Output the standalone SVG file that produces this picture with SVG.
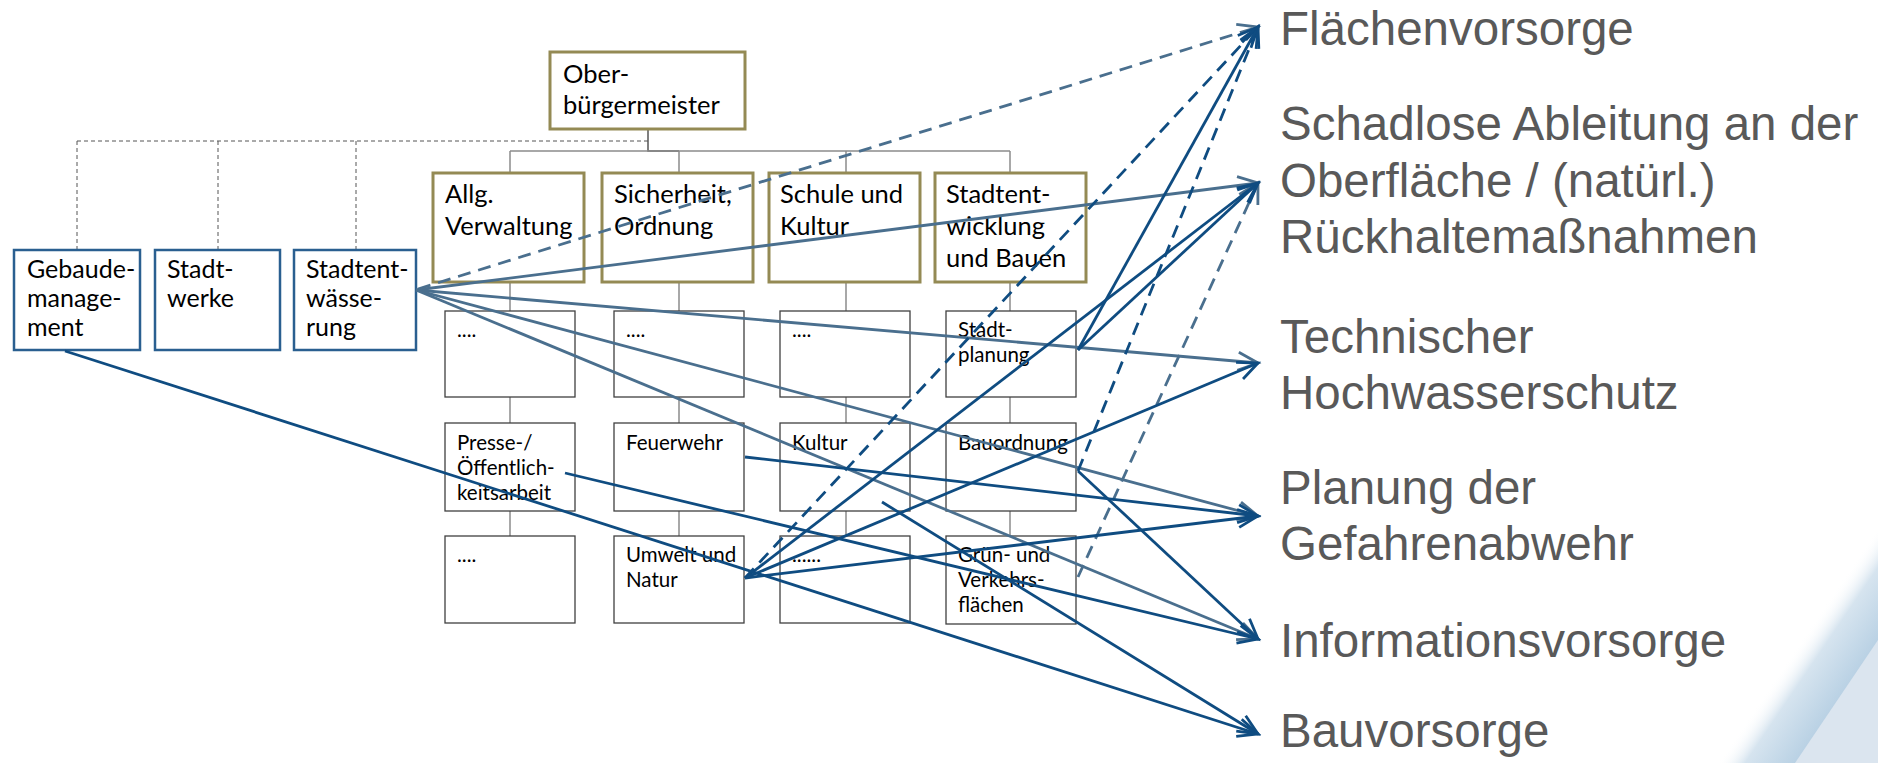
<svg xmlns="http://www.w3.org/2000/svg" width="1878" height="763" viewBox="0 0 1878 763">
<defs>
<style>
.top{fill:#fff;stroke:#948A54;stroke-width:3}
.side{fill:#fff;stroke:#2a5f90;stroke-width:2.5}
.sub{fill:#fff;stroke:#404040;stroke-width:1.3}
.tb{font-family:Lato,"Liberation Sans",sans-serif;font-size:25.5px;fill:#000}
.tl{font-family:Lato,"Liberation Sans",sans-serif;font-size:25px;fill:#000}
.ts{font-family:Lato,"Liberation Sans",sans-serif;font-size:20.5px;fill:#000}
.lab{font-family:"Liberation Sans",Arial,sans-serif;font-size:47.5px;fill:#595959}
.tree{stroke:#8c8c8c;stroke-width:1.5;fill:none}
.dot{stroke:#555;stroke-width:1;stroke-dasharray:4 3;fill:none}
.navy{stroke:#0f4c81;stroke-width:2.8;fill:none;marker-end:url(#an)}
.steel{stroke:#4a6f8e;stroke-width:2.8;fill:none;marker-end:url(#as)}
.dsh{stroke-dasharray:13 8}
</style>
<marker id="an" markerUnits="userSpaceOnUse" markerWidth="30" markerHeight="30" refX="0" refY="0" orient="auto" overflow="visible">
<path d="M-20,-9 L0,0 L-20,9" fill="none" stroke="#0f4c81" stroke-width="2.8"/>
</marker>
<marker id="as" markerUnits="userSpaceOnUse" markerWidth="30" markerHeight="30" refX="0" refY="0" orient="auto" overflow="visible">
<path d="M-20,-9 L0,0 L-20,9" fill="none" stroke="#4a6f8e" stroke-width="2.8"/>
</marker>
<linearGradient id="bg1" gradientUnits="userSpaceOnUse" x1="1718" y1="763" x2="1771" y2="799">
<stop offset="0" stop-color="#ffffff" stop-opacity="0"/>
<stop offset="0.35" stop-color="#d6e4ef"/>
<stop offset="1" stop-color="#b9d1e4"/>
</linearGradient>
</defs>
<rect width="1878" height="763" fill="#fff"/>
<g id="background">
<polygon points="1718,763 1878,527 1878,763" fill="url(#bg1)"/>
<polygon points="1795,763 1878,640 1878,763" fill="#dbe5ef"/>
</g>
<g id="tree">
<path class="dot" d="M77,141 H648 M77,141 V250 M218,141 V250 M356,141 V250"/>
<path d="M648,129 V151 H679" stroke="#555" stroke-width="1.5" fill="none"/>
<path class="tree" d="M510,151 H1010 M510,151 V173 M679,151 V173 M846,151 V173 M1010,151 V173"/>
<path class="tree" d="M510,282 V311 M679,282 V311 M846,282 V311 M1010,282 V311 M510,397 V423 M679,397 V423 M846,397 V423 M1010,397 V423 M510,511 V536 M679,511 V536 M846,511 V536 M1010,511 V536"/>
</g>
<g id="oberbuergermeister"><rect class="top" x="550" y="52" width="195" height="77"/><text class="tb"><tspan x="563" y="83">Ober-</tspan><tspan x="563" y="114">bürgermeister</tspan></text></g>
<g id="allg"><rect class="top" x="433" y="173" width="151" height="109"/><text class="tb"><tspan x="445" y="203">Allg.</tspan><tspan x="445" y="235">Verwaltung</tspan></text></g>
<g id="sicherheit"><rect class="top" x="602" y="173" width="151" height="109"/><text class="tb"><tspan x="614" y="203">Sicherheit,</tspan><tspan x="614" y="235">Ordnung</tspan></text></g>
<g id="schule"><rect class="top" x="769" y="173" width="151" height="109"/><text class="tb"><tspan x="780" y="203">Schule und</tspan><tspan x="780" y="235">Kultur</tspan></text></g>
<g id="stadtentwicklung"><rect class="top" x="935" y="173" width="151" height="109"/><text class="tb"><tspan x="946" y="203">Stadtent-</tspan><tspan x="946" y="235">wicklung</tspan><tspan x="946" y="267">und Bauen</tspan></text></g>
<g id="gebaeude"><rect class="side" x="14" y="250" width="126" height="100"/><text class="tl"><tspan x="27" y="278">Gebaude-</tspan><tspan x="27" y="307">manage-</tspan><tspan x="27" y="336">ment</tspan></text></g>
<g id="stadtwerke"><rect class="side" x="155" y="250" width="125" height="100"/><text class="tl"><tspan x="167" y="278">Stadt-</tspan><tspan x="167" y="307">werke</tspan></text></g>
<g id="stadtentwaesserung"><rect class="side" x="294" y="250" width="122" height="100"/><text class="tl"><tspan x="306" y="278">Stadtent-</tspan><tspan x="306" y="307">wässe-</tspan><tspan x="306" y="336">rung</tspan></text></g>
<g id="allg-1"><rect class="sub" x="445" y="311" width="130" height="86"/><text class="ts" x="457" y="337">....</text></g>
<g id="sich-1"><rect class="sub" x="614" y="311" width="130" height="86"/><text class="ts" x="626" y="337">....</text></g>
<g id="schule-1"><rect class="sub" x="780" y="311" width="130" height="86"/><text class="ts" x="792" y="337">....</text></g>
<g id="stadtplanung"><rect class="sub" x="946" y="311" width="130" height="86"/><text class="ts"><tspan x="958" y="337">Stadt-</tspan><tspan x="958" y="362">planung</tspan></text></g>
<g id="presse"><rect class="sub" x="445" y="423" width="130" height="88"/><text class="ts"><tspan x="457" y="450">Presse-/</tspan><tspan x="457" y="475">Öffentlich-</tspan><tspan x="457" y="500">keitsarbeit</tspan></text></g>
<g id="feuerwehr"><rect class="sub" x="614" y="423" width="130" height="88"/><text class="ts" x="626" y="450">Feuerwehr</text></g>
<g id="kultur"><rect class="sub" x="780" y="423" width="130" height="88"/><text class="ts" x="792" y="450">Kultur</text></g>
<g id="bauordnung"><rect class="sub" x="946" y="423" width="130" height="88"/><text class="ts" x="958" y="450">Bauordnung</text></g>
<g id="allg-3"><rect class="sub" x="445" y="536" width="130" height="87"/><text class="ts" x="457" y="562">....</text></g>
<g id="umwelt"><rect class="sub" x="614" y="536" width="130" height="87"/><text class="ts"><tspan x="626" y="562">Umwelt und</tspan><tspan x="626" y="587">Natur</tspan></text></g>
<g id="schule-3"><rect class="sub" x="780" y="536" width="130" height="87"/><text class="ts" x="792" y="562">......</text></g>
<g id="gruen"><rect class="sub" x="946" y="536" width="130" height="88"/><text class="ts"><tspan x="958" y="562">Grün- und</tspan><tspan x="958" y="587">Verkehrs-</tspan><tspan x="958" y="612">flächen</tspan></text></g>
<g id="t-flaechen"><text class="lab" x="1280" y="45">Flächenvorsorge</text></g>
<g id="t-schadlos"><text class="lab"><tspan x="1280" y="140">Schadlose Ableitung an der</tspan><tspan x="1280" y="197">Oberfläche / (natürl.)</tspan><tspan x="1280" y="253">Rückhaltemaßnahmen</tspan></text></g>
<g id="t-technisch"><text class="lab"><tspan x="1280" y="353">Technischer</tspan><tspan x="1280" y="409">Hochwasserschutz</tspan></text></g>
<g id="t-planung"><text class="lab"><tspan x="1280" y="504">Planung der</tspan><tspan x="1280" y="560">Gefahrenabwehr</tspan></text></g>
<g id="t-info"><text class="lab" x="1280" y="657">Informationsvorsorge</text></g>
<g id="t-bau"><text class="lab" x="1280" y="747">Bauvorsorge</text></g>
<g id="connectors">
<line class="steel dsh" x1="418" y1="289" x2="1258" y2="27"/>
<line class="steel" x1="416" y1="290" x2="1258" y2="183"/>
<line class="steel" x1="416" y1="290" x2="1258" y2="363"/>
<line class="steel" x1="416" y1="290" x2="1258" y2="516"/>
<line class="steel" x1="416" y1="290" x2="1258" y2="639"/>
<line class="steel dsh" x1="1078" y1="577" x2="1258" y2="183"/>
<line class="navy dsh" x1="745" y1="578" x2="1258" y2="27"/>
<line class="navy dsh" x1="1078" y1="471" x2="1258" y2="27"/>
<line class="navy" x1="745" y1="578" x2="1258" y2="183"/>
<line class="navy" x1="745" y1="578" x2="1258" y2="363"/>
<line class="navy" x1="745" y1="578" x2="1258" y2="516"/>
<line class="navy" x1="1078" y1="350" x2="1258" y2="27"/>
<line class="navy" x1="1078" y1="350" x2="1258" y2="183"/>
<line class="navy" x1="745" y1="457" x2="1258" y2="516"/>
<line class="navy" x1="565" y1="473" x2="1258" y2="639"/>
<line class="navy" x1="1078" y1="471" x2="1258" y2="639"/>
<line class="navy" x1="65" y1="351" x2="1258" y2="734"/>
<line class="navy" x1="882" y1="502" x2="1258" y2="734"/>
</g>
</svg>
